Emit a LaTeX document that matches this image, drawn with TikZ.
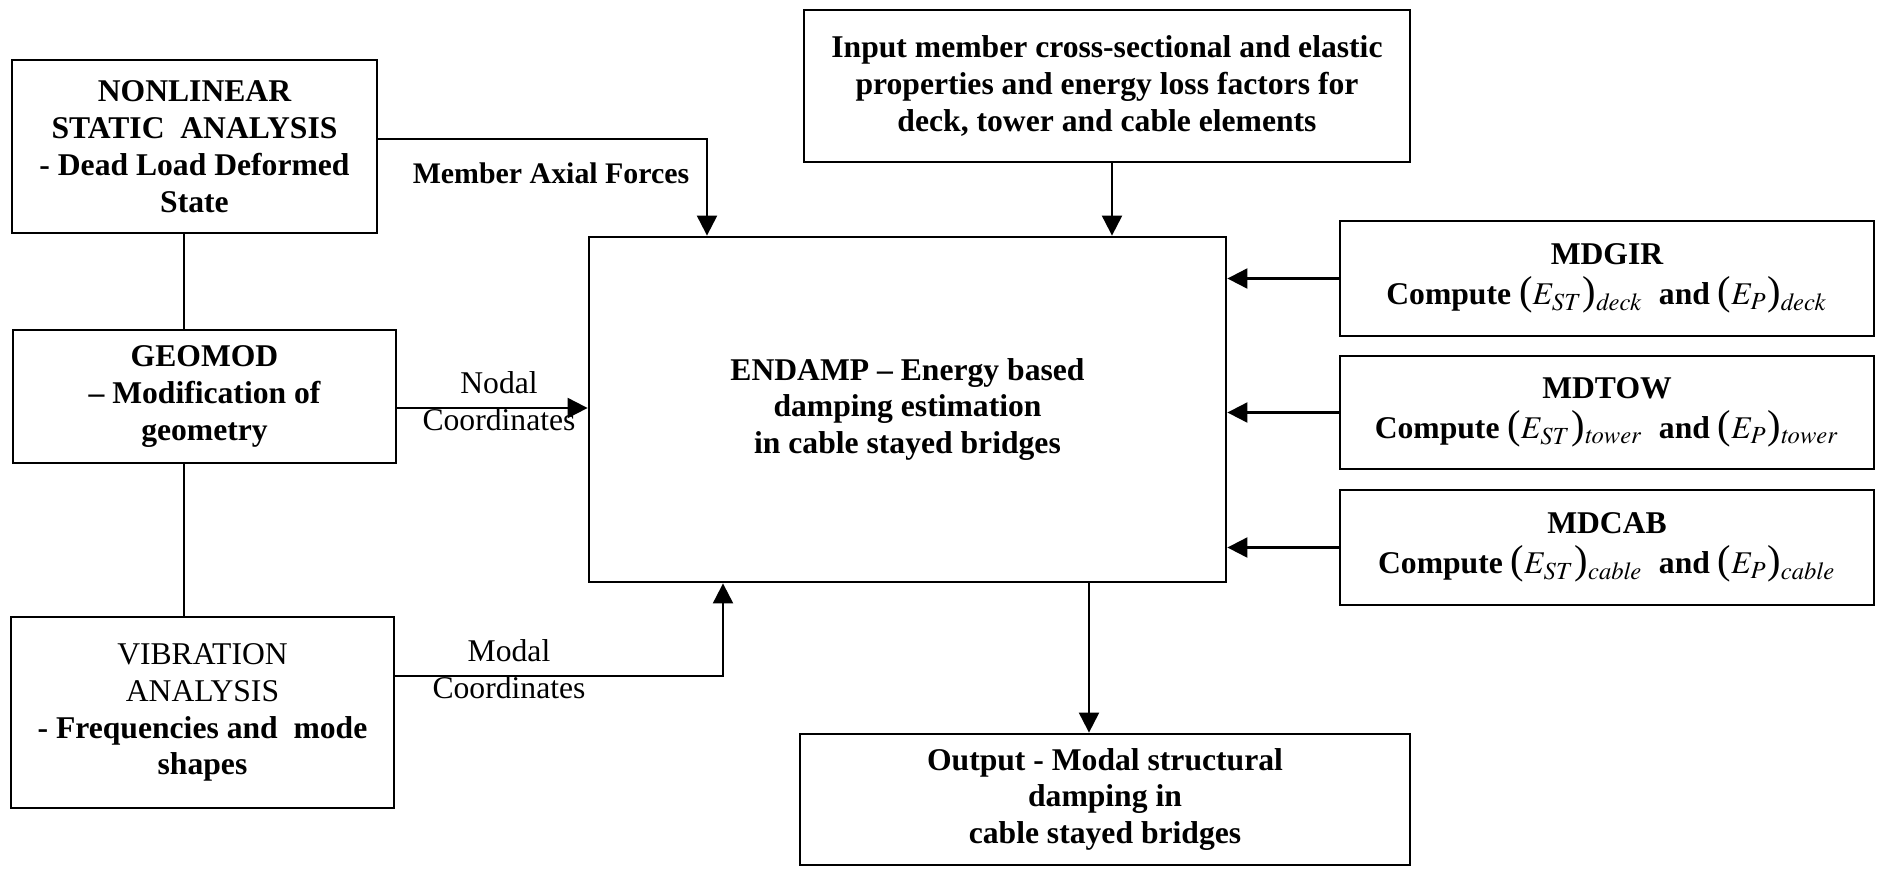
\documentclass[tikz,border=0pt]{standalone}
\usepackage{mathptmx}
\usepackage{fontspec}
\setmainfont{Liberation Serif}
\usepackage{tikz}
\usetikzlibrary{positioning,calc,arrows.meta}
\tikzset{dbox/.style={draw, line width=0.8pt, align=center, inner sep=0.3em, font=\fontsize{9}{10.5}\selectfont\bfseries}}
\tikzset{dlab/.style={inner sep=1pt, align=center, font=\fontsize{9}{10.5}\selectfont}}
\tikzset{arr/.style={draw, line width=0.6pt, -{Triangle[length=2mm,width=2mm]}}}
\tikzset{arr0/.style={draw, line width=0.6pt}}
\newcommand\Par[1]{{\mdseries\fontsize{11.5}{11}\selectfont#1}}
\newcommand\Eq[2]{\Par{(}$E_{#1}$\Par{)}$_{\mathit{#2}}$}

\begin{document}
\begin{tikzpicture}[x=0.1mm, y=-0.1mm]
	\useasboundingbox (0,0) rectangle (1881,868);
	% left column
	\node[dbox, minimum width=36.5mm, minimum height=17.3mm] (nonlin) at (194.5,146.5)
		{NONLINEAR\\STATIC\ \ ANALYSIS\\- Dead Load Deformed\\State};
	\node[dbox, minimum width=38.3mm, minimum height=13.3mm] (geomod) at (204.5,396.5)
		{GEOMOD\\-- Modification of\\geometry};
	\node[dbox, minimum width=38.3mm, minimum height=19.1mm] (vib) at (202.5,712.5)
		{\mdseries VIBRATION\\\mdseries ANALYSIS\\- Frequencies and\ \ mode\\shapes};

	% main program and its input / output
	\node[dbox, minimum width=60.6mm, minimum height=15.2mm] (input) at (1107,86)
		{Input member cross-sectional and elastic\\properties and energy loss factors for\\deck, tower and cable elements};
	\node[dbox, minimum width=63.7mm, minimum height=34.5mm] (endamp) at (907.5,409.5)
		{ENDAMP -- Energy based\\damping estimation\\in cable stayed bridges};
	\node[dbox, minimum width=61mm, minimum height=13.1mm] (outp) at (1105,799.5)
		{Output - Modal structural\\damping in\\cable stayed bridges};

	% element modules
	\node[dbox, minimum width=53.4mm, minimum height=11.5mm] (mdgir) at (1607,278.5)
		{MDGIR\\[1pt]Compute \Eq{ST}{deck}\ \ and \Eq{P}{deck}};
	\node[dbox, minimum width=53.4mm, minimum height=11.3mm] (mdtow) at (1607,412.5)
		{MDTOW\\[1pt]Compute \Eq{ST}{tower}\ \ and \Eq{P}{tower}};
	\node[dbox, minimum width=53.4mm, minimum height=11.5mm] (mdcab) at (1607,547.5)
		{MDCAB\\[1pt]Compute \Eq{ST}{cable}\ \ and \Eq{P}{cable}};

	\coordinate (vl) at (184,0);
	\draw[arr0] (nonlin.south -| vl) -- (geomod.north -| vl);
	\draw[arr0] (geomod.south -| vl) -- (vib.north -| vl);

	\coordinate (maf) at (707,139);
	\draw[arr] (nonlin.east |- maf) -| (endamp.north -| maf);
	\node[dlab, font=\fontsize{8.5}{10}\selectfont\bfseries] (maflab) at (551,173) {Member Axial Forces};

	\coordinate (nc) at (0,408);
	\draw[arr] (geomod.east |- nc) -- (endamp.west |- nc);
	\node[dlab] (nclab) at (499,401) {Nodal\\Coordinates};

	\coordinate (mc) at (723,676);
	\draw[arr] (vib.east |- mc) -| (endamp.south -| mc);
	\node[dlab] (mclab) at (509,669) {Modal\\Coordinates};

	\coordinate (ia) at (1112,0);
	\draw[arr] (input.south -| ia) -- (endamp.north -| ia);
	\foreach \m in {mdgir,mdtow,mdcab}
		\draw[arr] (\m.west) -- (endamp.east |- \m.west);

	\coordinate (oa) at (1089,0);
	\draw[arr] (endamp.south -| oa) -- (outp.north -| oa);
\end{tikzpicture}
\end{document}
